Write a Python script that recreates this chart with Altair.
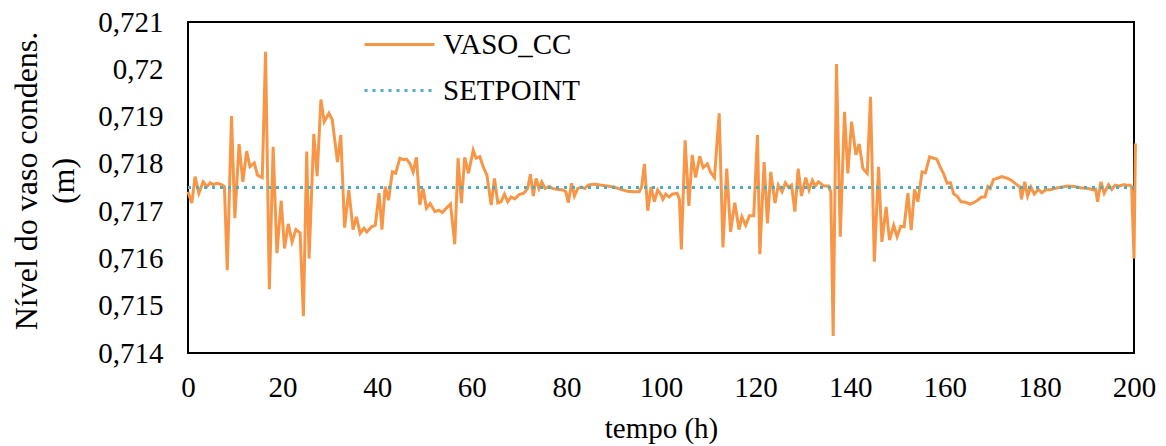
import altair as alt
import pandas as pd

FONT = "Times New Roman, Liberation Serif, serif"
ORANGE = "#F79646"
TEAL = "#4BACC6"

series = ["VASO_CC", "SETPOINT"]

hours = [0.0, 0.8, 1.5, 2.3, 3.2, 4.0, 4.7, 5.4, 6.1, 7.1, 7.7, 8.3, 9.2, 9.9, 10.8, 11.6, 12.4, 13.1, 14.0, 14.7,
         15.7, 16.4, 17.2, 18.0, 18.8, 19.7, 20.4, 21.2, 22.0, 22.8, 23.7, 24.4, 25.1, 25.6, 26.6, 27.3, 28.1, 28.8,
         29.8, 30.5, 31.6, 32.3, 33.1, 34.0, 34.9, 35.6, 36.4, 37.2, 37.8, 38.8, 39.6, 40.4, 41.0, 41.7, 42.4, 43.2,
         43.9, 44.8, 45.5, 46.2, 46.9, 47.6, 48.3, 49.0, 49.7, 50.4, 51.2, 52.2, 53.0, 53.8, 54.6, 55.5, 56.4, 57.1,
         57.8, 58.5, 59.3, 60.3, 60.9, 61.7, 62.4, 63.2, 64.1, 64.8, 65.5, 66.2, 66.9, 67.6, 68.3, 69.1, 70.0, 71.0,
         71.8, 72.4, 73.0, 73.6, 74.2, 74.8, 75.5, 76.4, 77.1, 78.1, 79.2, 79.9, 80.4, 81.1, 81.7, 82.4, 83.2, 83.9,
         84.6, 85.9, 87.3, 88.7, 90.1, 91.5, 92.9, 94.3, 95.4, 95.9, 96.5, 97.2, 97.9, 98.6, 99.3, 100.0, 100.4,
         101.0, 101.7, 102.4, 103.4, 103.9, 104.3, 105.1, 105.9, 106.6, 107.3, 108.2, 108.9, 109.8, 110.5, 111.3,
         112.3, 113.1, 113.9, 114.7, 115.6, 116.5, 117.1, 117.9, 118.7, 119.6, 120.4, 120.9, 121.8, 122.5, 123.2,
         124.1, 124.8, 125.6, 126.3, 127.0, 127.6, 128.3, 129.0, 129.7, 130.6, 131.3, 132.0, 132.6, 133.3, 134.4,
         135.4, 135.9, 136.4, 137.1, 137.9, 138.8, 139.5, 140.3, 141.2, 141.9, 142.7, 143.6, 144.3, 145.1, 146.0,
         146.7, 147.6, 148.3, 149.2, 149.9, 150.7, 151.4, 152.2, 152.9, 153.6, 154.3, 155.2, 155.9, 156.8, 157.6,
         158.3, 159.0, 159.7, 160.5, 161.2, 161.9, 162.6, 163.4, 164.3, 165.3, 166.1, 166.8, 167.8, 168.5, 169.1,
         169.6, 170.3, 171.0, 172.0, 173.1, 174.1, 175.2, 175.9, 176.2, 176.9, 177.5, 178.2, 178.9, 179.8, 180.5,
         181.3, 182.2, 183.2, 184.7, 186.1, 187.5, 188.9, 190.3, 191.4, 191.9, 192.3, 193.0, 193.7, 194.6, 195.3,
         196.0, 196.9, 197.8, 198.5, 199.2, 199.5, 200.0, 200.3]

level = [0.71741, 0.71717, 0.71773, 0.71738, 0.71762, 0.71752, 0.71760, 0.71756, 0.71759, 0.71756, 0.71752,
         0.71575, 0.71901, 0.71685, 0.71842, 0.71762, 0.71827, 0.71794, 0.71802, 0.71776, 0.71771, 0.72037,
         0.71535, 0.71836, 0.71611, 0.71722, 0.71621, 0.71673, 0.71635, 0.71661, 0.71654, 0.71478, 0.71826,
         0.71600, 0.71863, 0.71774, 0.71936, 0.71889, 0.71907, 0.71893, 0.71804, 0.71861, 0.71665, 0.71745,
         0.71661, 0.71688, 0.71653, 0.71664, 0.71656, 0.71667, 0.71670, 0.71738, 0.71661, 0.71752, 0.71723,
         0.71783, 0.71780, 0.71812, 0.71809, 0.71810, 0.71801, 0.71783, 0.71814, 0.71713, 0.71748, 0.71706,
         0.71716, 0.71699, 0.71702, 0.71697, 0.71706, 0.71715, 0.71630, 0.71812, 0.71717, 0.71814, 0.71780,
         0.71829, 0.71812, 0.71815, 0.71794, 0.71776, 0.71713, 0.71769, 0.71717, 0.71720, 0.71736, 0.71720,
         0.71730, 0.71726, 0.71735, 0.71738, 0.71748, 0.71778, 0.71732, 0.71769, 0.71748, 0.71762, 0.71748,
         0.71752, 0.71748, 0.71746, 0.71745, 0.71741, 0.71718, 0.71759, 0.71732, 0.71748, 0.71751, 0.71748,
         0.71755, 0.71757, 0.71755, 0.71753, 0.71751, 0.71746, 0.71742, 0.71741, 0.71741, 0.71751, 0.71800,
         0.71701, 0.71751, 0.71720, 0.71745, 0.71735, 0.71725, 0.71736, 0.71730, 0.71736, 0.71738, 0.71725,
         0.71619, 0.71850, 0.71711, 0.71819, 0.71771, 0.71816, 0.71792, 0.71800, 0.71782, 0.71771, 0.71907,
         0.71623, 0.71790, 0.71656, 0.71718, 0.71661, 0.71688, 0.71670, 0.71690, 0.71690, 0.71861, 0.71609,
         0.71804, 0.71674, 0.71783, 0.71717, 0.71755, 0.71741, 0.71760, 0.71750, 0.71755, 0.71699, 0.71790,
         0.71732, 0.71771, 0.71745, 0.71765, 0.71753, 0.71762, 0.71753, 0.71753, 0.71741, 0.71436, 0.72011,
         0.71646, 0.71910, 0.71780, 0.71889, 0.71819, 0.71842, 0.71790, 0.71780, 0.71942, 0.71593, 0.71794,
         0.71635, 0.71709, 0.71639, 0.71670, 0.71646, 0.71668, 0.71667, 0.71738, 0.71660, 0.71746, 0.71720,
         0.71783, 0.71781, 0.71815, 0.71812, 0.71810, 0.71794, 0.71780, 0.71759, 0.71760, 0.71736, 0.71732,
         0.71720, 0.71719, 0.71715, 0.71718, 0.71722, 0.71730, 0.71730, 0.71752, 0.71748, 0.71767, 0.71769,
         0.71773, 0.71770, 0.71765, 0.71756, 0.71751, 0.71725, 0.71762, 0.71732, 0.71751, 0.71736, 0.71746,
         0.71739, 0.71745, 0.71745, 0.71748, 0.71751, 0.71753, 0.71752, 0.71749, 0.71748, 0.71745, 0.71746,
         0.71720, 0.71762, 0.71738, 0.71756, 0.71746, 0.71755, 0.71753, 0.71756, 0.71755, 0.71755, 0.71751,
         0.71600, 0.71843]

setpoint_hours = [0, 200]
setpoint_level = [0.7175, 0.7175]

x_ticks = [0, 20, 40, 60, 80, 100, 120, 140, 160, 180, 200]
y_ticks = [0.714, 0.715, 0.716, 0.717, 0.718, 0.719, 0.720, 0.721]

df_v = pd.DataFrame({"t": hours, "v": level, "serie": series[0]})
df_s = pd.DataFrame({"t": setpoint_hours, "v": setpoint_level, "serie": series[1]})

legend = alt.Legend(
    orient="none", legendX=197, legendY=8, title=None,
    symbolType="M-5,0H5", symbolSize=196, symbolStrokeWidth=3,
    labelFont=FONT, labelFontSize=29, labelColor="#000000", labelOffset=29,
    rowPadding=16, padding=0,
)

color = alt.Color("serie:N", scale=alt.Scale(domain=series, range=[ORANGE, TEAL]), legend=legend)
dash = alt.StrokeDash("serie:N", scale=alt.Scale(domain=series, range=[[1, 0], [3, 5]]), legend=legend)

x = alt.X("t:Q", scale=alt.Scale(domain=[0, 200], nice=False),
          axis=alt.Axis(values=x_ticks, title="tempo (h)", labelFont=FONT, labelFontSize=29,
                        labelColor="#000000", labelBaseline="alphabetic", labelPadding=43,
                        labelFlush=False, ticks=False, domain=False, grid=False,
                        titleFont=FONT, titleFontSize=29, titleFontWeight="normal", titleColor="#000000",
                        titleBaseline="alphabetic", titleY=84))
y = alt.Y("v:Q", scale=alt.Scale(domain=[0.714, 0.721], nice=False, zero=False),
          axis=alt.Axis(values=y_ticks, labelExpr="replace(format(datum.value, '.3~f'), '.', ',')",
                        title=["Nível do vaso condens.", "(m)"], labelFont=FONT, labelFontSize=29,
                        labelColor="#000000", labelPadding=25, labelFlush=False,
                        ticks=False, domain=False, grid=False,
                        titleFont=FONT, titleFontSize=32, titleFontWeight="normal", titleColor="#000000",
                        titleAngle=270, titleAlign="center", titleBaseline="alphabetic",
                        titleLineHeight=37.5, titleX=-152, titleY=158.5))

vaso = alt.Chart(df_v).mark_line(strokeWidth=3).encode(x=x, y=y, color=color, strokeDash=dash)
setp = alt.Chart(df_s).mark_line(strokeWidth=3).encode(x="t:Q", y="v:Q", color=color, strokeDash=dash)

chart = alt.layer(vaso, setp).properties(
    width=946, height=331,
    background="white",
    autosize=alt.AutoSizeParams(type="none"),
    padding={"left": 180, "top": 14, "right": 24, "bottom": 93},
).configure_view(stroke="#000000", strokeWidth=2)

chart.save("out.html", embed_options={"renderer": "svg", "actions": False})
